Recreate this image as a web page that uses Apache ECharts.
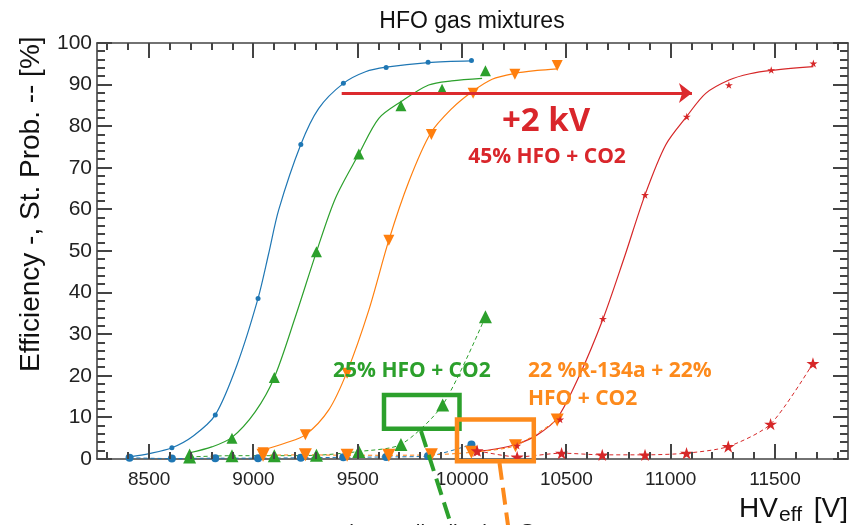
<!DOCTYPE html>
<html>
<head>
<meta charset="utf-8">
<script src="https://cdn.jsdelivr.net/npm/echarts@6/dist/echarts.min.js"></script>
<style>
html, body { margin: 0; padding: 0; background: #fff; }
#chart { width: 857px; height: 525px; }
</style>
</head>
<body>
<div id="chart"></div>
<script>
// HV axis ticks
var xMajor = [8500, 9000, 9500, 10000, 10500, 11000, 11500];
var xMinor = [];
for (var t = 8300; t <= 11800; t += 100) {
    if (t % 500 != 0) xMinor.push(t);
}
// efficiency axis ticks
var yMajor = [0, 10, 20, 30, 40, 50, 60, 70, 80, 90, 100];
var yMinor = [];
for (var s = 2; s < 100; s += 2) {
    if (s % 10 != 0) yMinor.push(s);
}

// blue mixture
var blueEffHV = [8406, 8609, 8817, 9022, 9227, 9431, 9636, 9837, 10045];
var blueEffVal = [0.5, 2.7, 10.6, 38.6, 75.6, 90.3, 94.1, 95.4, 95.8];
var blueStrHV = [8406, 8609, 8817, 9022, 9227, 9431, 9636, 9837, 10045];
var blueStrVal = [0.3, 0.1, 0.2, 0.2, 0.3, 0.4, 0.5, 0.7, 3.5];
var blueFitHV = [8406, 8500, 8609, 8713, 8817, 8921, 9022, 9073, 9121, 9227, 9313, 9431, 9537, 9636, 9837, 10045];
var blueFitVal = [0.5, 1.3, 2.7, 5.6, 10.6, 22.6, 38.6, 49.4, 59.9, 75.6, 84.3, 90.3, 93.1, 94.2, 95.3, 95.7];

// 25% HFO + CO2
var greenEffHV = [8694, 8897, 9100, 9302, 9505, 9707, 9904, 10112];
var greenEffVal = [1.2, 5.0, 19.6, 49.8, 73.3, 84.9, 88.9, 93.3];
var greenStrHV = [8694, 8897, 9100, 9302, 9505, 9707, 9907, 10112];
var greenStrVal = [0.5, 0.8, 0.8, 0.9, 1.8, 3.5, 13.0, 34.2];
var greenFitHV = [8694, 8800, 8897, 9009, 9100, 9201, 9302, 9393, 9505, 9601, 9710, 9840, 9950, 10096];
var greenFitVal = [1.5, 2.9, 5.2, 11.4, 19.6, 34.2, 49.8, 62.7, 73.3, 81.9, 86.0, 89.9, 90.9, 91.5];

// 22% R-134a + 22% HFO + CO2
var orangeEffHV = [9046, 9249, 9449, 9649, 9853, 10053, 10253, 10456];
var orangeEffVal = [1.5, 5.8, 20.6, 52.6, 78.0, 87.9, 92.5, 94.6];
var orangeStrHV = [9046, 9249, 9449, 9649, 9853, 10045, 10256, 10456];
var orangeStrVal = [0.9, 1.0, 0.9, 0.9, 1.0, 1.6, 3.2, 9.4];
var orangeFitHV = [9049, 9150, 9249, 9361, 9449, 9553, 9649, 9745, 9849, 9952, 10048, 10144, 10253, 10360, 10456];
var orangeFitVal = [2.2, 3.8, 5.8, 11.8, 21.0, 35.8, 52.6, 66.7, 78.3, 84.3, 88.3, 91.3, 92.7, 93.4, 93.8];

// 45% HFO + CO2
var redEffHV = [10072, 10264, 10470, 10675, 10877, 11077, 11279, 11482, 11684];
var redEffVal = [1.6, 3.2, 9.5, 33.7, 63.5, 82.3, 89.9, 93.5, 95.1];
var redStrHV = [10072, 10264, 10477, 10672, 10877, 11076, 11276, 11479, 11682];
var redStrVal = [2.0, 0.5, 1.4, 1.0, 1.0, 1.4, 3.0, 8.4, 23.0];
var redFitHV = [10065, 10160, 10264, 10360, 10456, 10560, 10675, 10776, 10877, 10976, 11076, 11168, 11280, 11380, 11482, 11684];
var redFitVal = [1.8, 2.4, 3.6, 5.8, 9.8, 19.8, 33.6, 48.2, 63.5, 75.5, 82.3, 87.9, 91.1, 92.6, 93.4, 94.3];

// +2 kV arrow (HV from, HV to, level)
var shiftArrow = [9423, 11102, 88.0];

var HV_MIN = 8250, HV_MAX = 11850;
var BLUE = '#1f77b4', GREEN = '#2ca02c', ORANGE = '#ff7f0e', RED = '#d62728';
var AXIS = '#444';
var FONT = 'Liberation Sans';
var STAR = 'path://M50,0 L61,35 L98,35 L68,57 L79,91 L50,70 L21,91 L32,57 L2,35 L39,35 Z';

function pairs(a, b) {
    return a.map(function (v, i) { return [v, b[i]]; });
}

function fitLine(hv, val, color) {
    return {
        type: 'line', data: pairs(hv, val), showSymbol: false, smooth: 0.3,
        lineStyle: { color: color, width: 1.2 }, z: 2, silent: true
    };
}
function strLine(hv, val, color, symbol, size, rotate) {
    return {
        type: 'line', data: pairs(hv, val), symbol: symbol, symbolSize: size, symbolRotate: rotate || 0,
        symbolKeepAspect: true, showAllSymbol: true, smooth: 0.25,
        itemStyle: { color: color }, lineStyle: { color: color, width: 1, type: [4, 3] }, z: 3
    };
}
function effPoints(hv, val, color, symbol, size, rotate) {
    return {
        type: 'scatter', data: pairs(hv, val), symbol: symbol, symbolSize: size, symbolRotate: rotate || 0,
        symbolKeepAspect: true, itemStyle: { color: color, opacity: 1 }, z: 4
    };
}

var myChart = echarts.init(document.getElementById('chart'));

var option = {
    backgroundColor: '#fff',
    animation: false,
    grid: { left: 97, top: 43, right: 9, bottom: 66 },
    xAxis: [
        {
            type: 'value', min: HV_MIN, max: HV_MAX, position: 'bottom',
            axisLine: { show: true, onZero: false, lineStyle: { color: AXIS, width: 1.6 } },
            axisTick: { show: false },
            axisLabel: {
                customValues: xMajor, fontSize: 19, color: '#222', margin: 11, fontFamily: FONT,
                formatter: function (v) { return String(v); }
            },
            splitLine: { show: false }
        },
        {
            type: 'value', min: HV_MIN, max: HV_MAX, position: 'top',
            axisLine: { show: true, onZero: false, lineStyle: { color: AXIS, width: 1.6 } },
            axisTick: { show: false }, axisLabel: { show: false }, splitLine: { show: false }
        }
    ],
    yAxis: [
        {
            type: 'value', min: 0, max: 100, interval: 10, position: 'left',
            axisLine: { show: true, onZero: false, lineStyle: { color: AXIS, width: 1.6 } },
            axisTick: { show: false },
            axisLabel: { fontSize: 21, color: '#222', margin: 5, fontFamily: FONT },
            splitLine: { show: false }
        },
        {
            type: 'value', min: 0, max: 100, interval: 10, position: 'right',
            axisLine: { show: true, onZero: false, lineStyle: { color: AXIS, width: 1.6 } },
            axisTick: { show: false }, axisLabel: { show: false }, splitLine: { show: false }
        }
    ],
    series: [
        fitLine(blueFitHV, blueFitVal, BLUE),
        fitLine(greenFitHV, greenFitVal, GREEN),
        fitLine(orangeFitHV, orangeFitVal, ORANGE),
        Object.assign(fitLine(redFitHV, redFitVal, RED), {
            markLine: {
                silent: true, symbol: ['none', 'arrow'], symbolSize: [15, 13],
                label: { show: false },
                lineStyle: { color: '#dc2a2e', width: 3, type: 'solid' },
                data: [[{ coord: [shiftArrow[0], shiftArrow[2]] }, { coord: [shiftArrow[1], shiftArrow[2]] }]]
            }
        }),
        strLine(blueStrHV, blueStrVal, BLUE, 'circle', 8),
        strLine(greenStrHV, greenStrVal, GREEN, 'triangle', 13),
        strLine(orangeStrHV, orangeStrVal, ORANGE, 'triangle', 13, 180),
        strLine(redStrHV, redStrVal, RED, STAR, 13),
        effPoints(blueEffHV, blueEffVal, BLUE, 'circle', 5),
        effPoints(greenEffHV, greenEffVal, GREEN, 'triangle', 11),
        effPoints(orangeEffHV, orangeEffVal, ORANGE, 'triangle', 11, 180),
        effPoints(redEffHV, redEffVal, RED, STAR, 8)
    ]
};

myChart.setOption(option);

// annotations
var graphics = [
    { type: 'text', x: 472, y: 10, style: { text: 'HFO gas mixtures', font: '23px "Liberation Sans"', fill: '#111', align: 'center', verticalAlign: 'top' } },
    { type: 'text', x: 31, y: 372, rotation: Math.PI / 2, style: { text: 'Efficiency -, St. Prob. -- [%]', font: '28px "Liberation Sans"', fill: '#111', align: 'left', verticalAlign: 'middle' } },
    { type: 'text', x: 778, y: 509, style: { text: 'HV', font: '28px "Liberation Sans"', fill: '#111', align: 'right', verticalAlign: 'middle' } },
    { type: 'text', x: 779, y: 515, style: { text: 'eff', font: '21px "Liberation Sans"', fill: '#111', align: 'left', verticalAlign: 'middle' } },
    { type: 'text', x: 848, y: 509, style: { text: '[V]', font: '28px "Liberation Sans"', fill: '#111', align: 'right', verticalAlign: 'middle' } },
    { type: 'text', x: 546, y: 122, z: 50, style: { text: '+2 kV', font: 'bold 33px "Open Sans"', fill: '#d9262b', align: 'center', verticalAlign: 'middle' } },
    { type: 'text', x: 547, y: 157, z: 50, style: { text: '45% HFO + CO2', font: 'bold 21px "Open Sans"', fill: '#d9262b', align: 'center', verticalAlign: 'middle' } },
    { type: 'text', x: 333, y: 371, z: 50, style: { text: '25% HFO + CO2', font: 'bold 21px "Open Sans"', fill: GREEN, align: 'left', verticalAlign: 'middle' } },
    { type: 'text', x: 528, y: 371, z: 50, style: { text: '22 %R-134a + 22%', font: 'bold 21px "Open Sans"', fill: '#fd8a1c', align: 'left', verticalAlign: 'middle' } },
    { type: 'text', x: 528, y: 399, z: 50, style: { text: 'HFO + CO2', font: 'bold 21px "Open Sans"', fill: '#fd8a1c', align: 'left', verticalAlign: 'middle' } },
    { type: 'rect', z: 60, shape: { x: 384, y: 395, width: 75.5, height: 33.7 }, style: { fill: 'none', stroke: GREEN, lineWidth: 4.5 } },
    { type: 'rect', z: 60, shape: { x: 457, y: 419.5, width: 76.8, height: 41.7 }, style: { fill: 'none', stroke: '#fd8a1c', lineWidth: 4.5 } },
    { type: 'line', z: 60, shape: { x1: 421, y1: 431, x2: 456, y2: 540 }, style: { stroke: GREEN, lineWidth: 4, lineDash: [17, 8] } },
    { type: 'line', z: 60, shape: { x1: 499.5, y1: 463, x2: 510, y2: 540 }, style: { stroke: '#fd8a1c', lineWidth: 4, lineDash: [17, 8] } },
    { type: 'text', x: 334, y: 523, z: 40, style: { text: 'Charge distribution @', font: '21px "Liberation Sans"', fill: '#222', align: 'left', verticalAlign: 'top' } }
];

// frame ticks on all four sides, pointing inwards (filled thin rects)
var x0 = 97, x1 = 848, y0 = 43, y1 = 459;
function hvToPx(v) {
    return x0 + (v - HV_MIN) / (HV_MAX - HV_MIN) * (x1 - x0);
}
function effToPx(v) {
    return y1 - v / 100 * (y1 - y0);
}
function bar(x, y, w, h) {
    return { type: 'rect', z: 30, silent: true, shape: { x: x, y: y, width: w, height: h }, style: { fill: AXIS } };
}
function addXTicks(list, len) {
    list.forEach(function (v) {
        var px = Math.round(hvToPx(v));
        graphics.push(bar(px - 1, y1 - len, 2, len));
        graphics.push(bar(px - 1, y0, 2, len));
    });
}
function addYTicks(list, len) {
    list.forEach(function (v) {
        var py = Math.round(effToPx(v));
        graphics.push(bar(x0, py - 1, len, 2));
        graphics.push(bar(x1 - len, py - 1, len, 2));
    });
}
addXTicks(xMajor, 15);
addXTicks(xMinor, 7);
addYTicks(yMajor, 15);
addYTicks(yMinor, 8);

myChart.setOption({ graphic: graphics });
</script>
</body>
</html>
